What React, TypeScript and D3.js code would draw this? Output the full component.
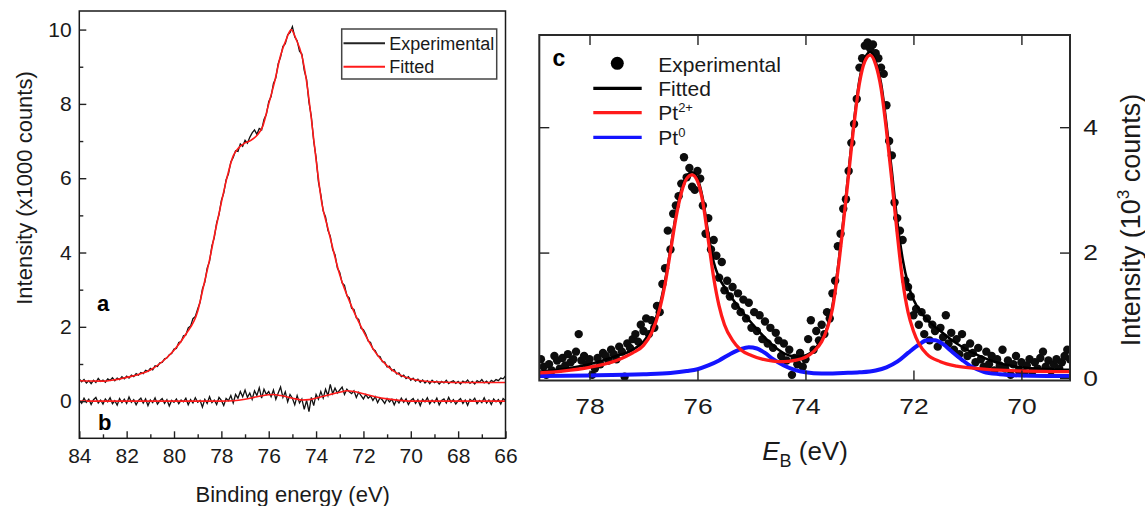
import React, { useRef, useEffect } from "react";
import * as d3 from "d3";

// ---------- panel a / b : 84 -> 66 eV, one value every 0.1 eV
const abStart = 84;
const abStep = 0.1;

// experimental spectrum (a), x1000 counts
const expA = [
  0.6, 0.52, 0.58, 0.49, 0.55, 0.47, 0.56, 0.5, 0.61, 0.53,
  0.57, 0.51, 0.6, 0.56, 0.63, 0.55, 0.62, 0.58, 0.66, 0.6,
  0.67, 0.62, 0.7, 0.66, 0.74, 0.7, 0.77, 0.74, 0.83, 0.8,
  0.88, 0.84, 0.95, 0.93, 1.03, 1.04, 1.14, 1.16, 1.25, 1.28,
  1.4,
  1.42, 1.58, 1.6, 1.76, 1.78, 1.97, 2.02, 2.22, 2.28, 2.48,
  2.66, 3.02, 3.2, 3.58, 3.76, 4.18, 4.4, 4.8, 5.02, 5.4,
  5.6, 5.96, 6.12, 6.44, 6.56, 6.74, 6.72, 6.92, 6.86, 7.02,
  6.94, 7.1, 7.22, 7.3, 7.18, 7.34, 7.3, 7.58, 7.72, 8.06,
  8.2, 8.55, 8.7, 9.08, 9.26, 9.55, 9.62, 9.86, 9.92, 10.08,
  9.8, 9.7, 9.42, 9.34, 8.9, 8.66, 8.04, 7.66, 7.0, 6.56,
  5.9, 5.56, 5.12, 4.96, 4.6, 4.44, 4.08, 3.94, 3.58, 3.46,
  3.18, 3.12, 2.84, 2.78, 2.5, 2.47, 2.24, 2.2, 1.96, 1.92,
  1.8, 1.62, 1.58, 1.4, 1.36, 1.22, 1.2, 1.06, 1.05, 0.92,
  0.94, 0.82, 0.85, 0.73, 0.76, 0.66, 0.7, 0.61, 0.66, 0.56,
  0.62, 0.54, 0.59, 0.51, 0.57, 0.49, 0.55, 0.47, 0.56, 0.5,
  0.54, 0.46, 0.53, 0.49, 0.56, 0.47, 0.52, 0.55, 0.48, 0.53,
  0.46, 0.54, 0.5, 0.57, 0.48, 0.53, 0.46, 0.55, 0.51, 0.58,
  0.49, 0.54, 0.47, 0.56, 0.52, 0.58, 0.55, 0.62, 0.6, 0.68,
];

// fitted envelope (a): [eV, value]
const fitA: [number, number][] = [
  [84, 0.55], [83, 0.54], [82, 0.64], [81.5, 0.72], [81, 0.84], [80.5, 1.06],
  [80, 1.37], [79.5, 1.8], [79, 2.42], [78.75, 3.1], [78.5, 3.8], [78.25, 4.6],
  [78, 5.35], [77.75, 6.05], [77.5, 6.6], [77.25, 6.83], [77, 6.95], [76.75, 7.02],
  [76.5, 7.15], [76.25, 7.4], [76, 8.0], [75.75, 8.6], [75.5, 9.3], [75.25, 9.75],
  [75.05, 10.0], [74.85, 9.75], [74.6, 9.3], [74.4, 8.6], [74.2, 7.6], [74, 6.5],
  [73.75, 5.3], [73.5, 4.65], [73.25, 4.0], [73, 3.4], [72.5, 2.55], [72, 1.88],
  [71.5, 1.32], [71, 0.95], [70.5, 0.72], [70, 0.6], [69.5, 0.54], [69, 0.52],
  [68, 0.5], [67, 0.5], [66, 0.5],
];

// experimental spectrum (b)
const expB = [
  0.02, -0.06, 0.08, -0.03, 0.05, -0.09, 0.04, 0.1, -0.05, 0.03,
  -0.08, 0.06, -0.02, 0.09, -0.07, 0.01, -0.11, 0.07, -0.04, 0.05,
  -0.06, 0.11, -0.03, 0.04, -0.1, 0.02, 0.08, -0.05, 0.06, -0.12,
  0.03, -0.04, 0.09, -0.08, 0.01, 0.07, -0.06, 0.04, -0.13, 0.02,
  -0.03,
  0.06, -0.07, 0.03, -0.02, 0.08, -0.1, 0.04, -0.05, 0.09, -0.03,
  0.02, -0.16, 0.05, -0.06, 0.12, -0.04, 0.03, -0.09, 0.1, 0.02,
  -0.12, 0.07, 0.01, 0.15, -0.05, 0.18, 0.08, 0.26, 0.12, 0.3,
  0.1, 0.22, 0.05, 0.28, 0.15, 0.36, 0.08, 0.32, 0.18, 0.26,
  0.12, 0.3, 0.05, 0.22, 0.38, 0.1, 0.25, -0.02, 0.18, 0.08,
  -0.1, 0.15, -0.05, 0.06, -0.22, 0.02, -0.28, 0.1, -0.12, 0.18,
  0.05, 0.26, 0.08, 0.32, 0.15, 0.45, 0.2, 0.35, 0.22, 0.3,
  0.38, 0.18, 0.32, 0.25, 0.2, 0.28, 0.1, 0.24, 0.15, 0.06,
  0.18, 0.08, 0.14, 0.02, 0.12, -0.04, 0.09, 0.03, -0.06, 0.07,
  -0.02, 0.05, -0.1, 0.04, -0.05, 0.08, -0.03, 0.06, -0.09, 0.02,
  0.07, -0.06, 0.04, -0.12, 0.05, -0.02, 0.09, -0.07, 0.03, -0.04,
  0.08, -0.1, 0.02, 0.06, -0.05, 0.1, -0.03, 0.04, -0.08, 0.01,
  0.07, -0.06, 0.03, -0.11, 0.05, 0.0, 0.08, -0.07, 0.02, -0.04,
  0.09, -0.05, 0.03, -0.09, 0.06, -0.02, 0.04, -0.08, 0.07, 0.02,
];

const fitB: [number, number][] = [
  [84, 0], [78, 0], [77.5, 0.01], [77, 0.05], [76.5, 0.12], [76, 0.17],
  [75.8, 0.18], [75.5, 0.15], [75, 0.08], [74.6, 0.03], [74.3, 0.04],
  [73.9, 0.1], [73.4, 0.18], [73, 0.24], [72.7, 0.28], [72.4, 0.26],
  [72, 0.2], [71.5, 0.12], [71, 0.06], [70.5, 0.02], [70, 0], [66, 0],
];

// ---------- panel c : 78.9 -> 69.1 eV, one point every 0.05 eV (10^3 counts)
const cStart = 78.9;
const cStep = 0.05;
const expC = [
  0.3, 0.18, 0.05, 0.22, 0.12, 0.35, 0.28, 0.15, 0.32, 0.2,
  0.38, 0.25, 0.3, 0.42, 0.7, 0.28, 0.35, 0.22, 0.3, 0.05,
  0.15, 0.32, 0.22, 0.4, 0.35, 0.28, 0.45, 0.38, 0.3, 0.5,
  0.42, 0.02, 0.55, 0.48, 0.62, 0.7, 0.58, 0.85, 0.75, 0.95,
  0.7, 0.92, 0.8, 1.15, 1.05, 1.5, 1.75, 2.35, 2.05, 2.62,
  2.75, 2.9, 3.1, 3.52, 3.2, 3.35, 3.05, 3.0, 3.3, 3.18,
  2.75, 2.3, 2.55, 2.05, 2.2, 1.95, 1.6, 1.85, 1.4, 1.55,
  1.3, 1.45, 1.15, 1.35, 1.05, 1.25, 0.95, 1.2, 0.8, 1.05,
  0.75, 1.0, 0.62, 0.9, 0.55, 0.8, 0.48, 0.72, 0.6, 0.35,
  0.55, 0.28, 0.45, 0.05, 0.32, 0.22, 0.4, 0.18, 0.3, 0.62,
  0.92, 0.45, 0.75, 0.6, 0.85, 0.7, 1.05, 0.95, 1.35, 1.55,
  2.1, 2.3, 2.7, 2.85, 3.3, 3.75, 4.05, 4.45, 4.95, 5.1,
  5.3, 5.35, 5.25, 5.32, 5.18, 5.1, 4.95, 4.85, 4.35, 3.78,
  3.55, 2.8, 2.55, 2.35, 2.2, 1.55, 1.45, 1.3, 1.0, 1.1,
  0.85, 1.05, 0.7, 0.95, 0.6, 0.85, 0.75, 0.5, 0.8, 0.65,
  1.0, 0.55, 0.72, 0.45, 0.62, 0.38, 0.7, 0.48, 0.35, 0.55,
  0.4, 0.25, 0.48, 0.3, 0.18, 0.42, 0.22, 0.35, 0.12, 0.3,
  0.2, 0.45, 0.15, 0.28, 0.05, 0.22, 0.35, 0.12, 0.25, 0.08,
  0.2, 0.3, 0.1, 0.25, 0.15, 0.32, 0.42, 0.18, 0.28, 0.12,
  0.22, 0.3, 0.15, 0.25, 0.35, 0.45, 0.3,
];

const fitC: [number, number][] = [
  [78.93, 0.1], [78.5, 0.14], [78, 0.22], [77.5, 0.35], [77.2, 0.45], [77, 0.58],
  [76.85, 0.78], [76.7, 1.15], [76.6, 1.55], [76.5, 2.05], [76.4, 2.6], [76.3, 3.0],
  [76.2, 3.22], [76.1, 3.28], [76, 3.18], [75.9, 2.85], [75.8, 2.3], [75.7, 1.85],
  [75.6, 1.6], [75.5, 1.45], [75.3, 1.2], [75.1, 0.98], [74.9, 0.78], [74.7, 0.6],
  [74.5, 0.45], [74.3, 0.36], [74.1, 0.34], [73.9, 0.4], [73.75, 0.55], [73.6, 0.8],
  [73.5, 1.15], [73.4, 1.75], [73.3, 2.5], [73.2, 3.3], [73.1, 4.1], [73, 4.75],
  [72.9, 5.1], [72.8, 5.2], [72.7, 5.05], [72.6, 4.7], [72.5, 4.05], [72.4, 3.3],
  [72.3, 2.5], [72.2, 1.9], [72.1, 1.5], [72, 1.25], [71.8, 0.98], [71.5, 0.75],
  [71.2, 0.55], [70.8, 0.36], [70.5, 0.26], [70, 0.17], [69.5, 0.14], [69.1, 0.13],
];

const pt2C: [number, number][] = [
  [78.93, 0.08], [78.5, 0.11], [78, 0.17], [77.5, 0.28], [77.2, 0.4], [77, 0.52],
  [76.85, 0.72], [76.7, 1.1], [76.6, 1.5], [76.5, 2.02], [76.4, 2.55], [76.3, 2.95],
  [76.2, 3.18], [76.1, 3.24], [76, 3.14], [75.9, 2.8], [75.8, 2.2], [75.7, 1.6],
  [75.6, 1.15], [75.5, 0.85], [75.35, 0.6], [75.2, 0.45], [75, 0.36], [74.8, 0.3],
  [74.6, 0.27], [74.4, 0.26], [74.2, 0.28], [74, 0.33], [73.85, 0.42], [73.7, 0.58],
  [73.6, 0.78], [73.5, 1.1], [73.4, 1.7], [73.3, 2.45], [73.2, 3.25], [73.1, 4.05],
  [73, 4.7], [72.9, 5.05], [72.8, 5.15], [72.7, 5.0], [72.6, 4.62], [72.5, 3.95],
  [72.4, 3.15], [72.3, 2.3], [72.2, 1.55], [72.1, 1.05], [72, 0.75], [71.9, 0.55],
  [71.75, 0.38], [71.5, 0.26], [71.2, 0.19], [70.8, 0.15], [70.3, 0.12], [69.1, 0.1],
];

const pt0C: [number, number][] = [
  [78.93, 0.03], [78, 0.04], [77, 0.06], [76.5, 0.08], [76.2, 0.11], [76, 0.14],
  [75.8, 0.2], [75.6, 0.28], [75.4, 0.38], [75.2, 0.46], [75.05, 0.49], [74.9, 0.47],
  [74.75, 0.4], [74.6, 0.3], [74.4, 0.2], [74.2, 0.13], [74, 0.09], [73.7, 0.07],
  [73.3, 0.08], [73, 0.09], [72.7, 0.12], [72.5, 0.17], [72.3, 0.26], [72.1, 0.4],
  [71.9, 0.53], [71.75, 0.6], [71.6, 0.6], [71.45, 0.54], [71.3, 0.43], [71.1, 0.29],
  [70.9, 0.17], [70.7, 0.1], [70.4, 0.06], [70, 0.04], [69.1, 0.03],
];

const xTicksA = [84, 82, 80, 78, 76, 74, 72, 70, 68, 66];
const xMinorA = [83, 81, 79, 77, 75, 73, 71, 69, 67];
const yTicksA = [0, 2, 4, 6, 8, 10];
const yMinorA = [1, 3, 5, 7, 9];
const xTicksC = [78, 76, 74, 72, 70];
const yTicksC = [0, 2, 4];

const RED = "#ff1a1a";
const BLUE = "#1414ff";
const FONT = "'Liberation Sans', Arial, Helvetica, sans-serif";

const toPoints = (vals: number[], start: number, step: number): [number, number][] =>
  vals.map((v, i) => [start - i * step, v]);

const App = () => {
  const svgRef = useRef<SVGSVGElement>(null);

  useEffect(() => {
    const svg = d3.select(svgRef.current);
    svg.selectAll("*").remove();
    svg.attr("font-family", FONT);

    const styleAxis = (g: any, fs: number, stretch = 1) => {
      g.select(".domain").remove();
      g.selectAll(".tick line").attr("stroke", "#222").attr("stroke-width", 1.4);
      g.selectAll(".tick text")
        .attr("font-size", fs)
        .attr("font-family", FONT)
        .attr("fill", "#1a1a1a");
      if (stretch !== 1) g.selectAll(".tick text").attr("transform", `scale(${stretch},1)`);
    };

    // ======================= panel a / b
    const xA = d3.scaleLinear().domain([84, 66]).range([79.3, 505.5]);
    const yA = d3.scaleLinear().domain([-1, 10.5]).range([438.3, 11]);
    const lineA = d3.line<[number, number]>().x((d) => xA(d[0])).y((d) => yA(d[1]));
    const smoothA = d3
      .line<[number, number]>()
      .x((d) => xA(d[0]))
      .y((d) => yA(d[1]))
      .curve(d3.curveMonotoneX);

    const gA = svg.append("g");

    gA.append("path")
      .attr("d", lineA(toPoints(expB, abStart, abStep)))
      .attr("fill", "none")
      .attr("stroke", "#111")
      .attr("stroke-width", 1.3);
    gA.append("path")
      .attr("d", smoothA(fitB))
      .attr("fill", "none")
      .attr("stroke", RED)
      .attr("stroke-width", 1.6);

    gA.append("path")
      .attr("d", lineA(toPoints(expA, abStart, abStep)))
      .attr("fill", "none")
      .attr("stroke", "#111")
      .attr("stroke-width", 1.3);
    gA.append("path")
      .attr("d", smoothA(fitA))
      .attr("fill", "none")
      .attr("stroke", RED)
      .attr("stroke-width", 1.6);

    gA.append("g")
      .attr("transform", "translate(0,438.3)")
      .call(d3.axisBottom(xA).tickValues(xTicksA).tickSize(-7).tickPadding(10).tickFormat(d3.format("d")))
      .call((g) => styleAxis(g, 21));
    gA.append("g")
      .attr("transform", "translate(0,438.3)")
      .call(d3.axisBottom(xA).tickValues(xMinorA).tickSize(-4).tickFormat(() => ""))
      .call((g) => styleAxis(g, 21));
    gA.append("g")
      .attr("transform", "translate(79.3,0)")
      .call(d3.axisLeft(yA).tickValues(yTicksA).tickSize(-7).tickPadding(7.6).tickFormat(d3.format("d")))
      .call((g) => styleAxis(g, 21));
    gA.append("g")
      .attr("transform", "translate(79.3,0)")
      .call(d3.axisLeft(yA).tickValues(yMinorA).tickSize(-4).tickFormat(() => ""))
      .call((g) => styleAxis(g, 21));

    gA.append("rect")
      .attr("x", xA(84))
      .attr("y", yA(10.5))
      .attr("width", xA(66) - xA(84))
      .attr("height", yA(-1) - yA(10.5))
      .attr("fill", "none")
      .attr("stroke", "#1a1a1a")
      .attr("stroke-width", 1.5);

    // legend a
    const legA = gA.append("g");
    legA.append("rect")
      .attr("x", 341.7).attr("y", 29).attr("width", 155).attr("height", 50)
      .attr("fill", "white").attr("stroke", "#444").attr("stroke-width", 1.5);
    [["Experimental", "#222", 43.3], ["Fitted", RED, 66.7]].forEach(([t, c, y]) => {
      legA.append("line")
        .attr("x1", 343.5).attr("x2", 385).attr("y1", y as number).attr("y2", y as number)
        .attr("stroke", c as string).attr("stroke-width", 2);
      legA.append("text")
        .attr("x", 389.3).attr("y", (y as number) + 6.7)
        .attr("font-size", 18).attr("fill", "#1a1a1a")
        .text(t as string);
    });

    gA.append("text").attr("x", 97).attr("y", 311).attr("font-size", 22)
      .attr("font-weight", "bold").text("a");
    gA.append("text").attr("x", 98).attr("y", 430).attr("font-size", 22)
      .attr("font-weight", "bold").text("b");

    gA.append("text")
      .attr("transform", "translate(31.5,188) rotate(-90)")
      .attr("text-anchor", "middle").attr("font-size", 22).attr("fill", "#1a1a1a")
      .text("Intensity (x1000 counts)");
    gA.append("text")
      .attr("x", 292.7).attr("y", 501.5)
      .attr("text-anchor", "middle").attr("font-size", 22).attr("fill", "#1a1a1a")
      .text("Binding energy (eV)");

    // ======================= panel c
    const xC = d3.scaleLinear().domain([78.93, 69.1]).range([539.3, 1070]);
    const yC = d3.scaleLinear().domain([-0.04, 5.47]).range([380.5, 35]);
    const smoothC = d3
      .line<[number, number]>()
      .x((d) => xC(d[0]))
      .y((d) => yC(d[1]))
      .curve(d3.curveMonotoneX);

    const gC = svg.append("g");
    gC.append("clipPath").attr("id", "clipC")
      .append("rect")
      .attr("x", 539.3).attr("y", 35).attr("width", 1070 - 539.3).attr("height", 380.5 - 35);

    const plotC = gC.append("g").attr("clip-path", "url(#clipC)");
    plotC.selectAll("circle")
      .data(toPoints(expC, cStart, cStep))
      .join("circle")
      .attr("cx", (d) => xC(d[0]))
      .attr("cy", (d) => yC(d[1]))
      .attr("r", 4.2)
      .attr("fill", "#0d0d0d");

    plotC.append("path").attr("d", smoothC(fitC)).attr("fill", "none")
      .attr("stroke", "#000").attr("stroke-width", 2.6);
    plotC.append("path").attr("d", smoothC(pt0C)).attr("fill", "none")
      .attr("stroke", BLUE).attr("stroke-width", 4);
    plotC.append("path").attr("d", smoothC(pt2C)).attr("fill", "none")
      .attr("stroke", RED).attr("stroke-width", 3.3);

    gC.append("g")
      .attr("transform", "translate(0,380.5)")
      .call(d3.axisBottom(xC).tickValues(xTicksC).tickSize(-10).tickPadding(18).tickFormat(d3.format("d")))
      .call((g) => styleAxis(g, 22, 1.2));
    gC.append("g")
      .attr("transform", "translate(0,35)")
      .call(d3.axisTop(xC).tickValues(xTicksC).tickSize(-10).tickFormat(() => ""))
      .call((g) => styleAxis(g, 22));
    gC.append("g")
      .attr("transform", "translate(1070,0)")
      .call(d3.axisRight(yC).tickValues(yTicksC).tickSize(-10).tickPadding(11).tickFormat(d3.format("d")))
      .call((g) => styleAxis(g, 22, 1.2));
    gC.append("g")
      .attr("transform", "translate(539.3,0)")
      .call(d3.axisLeft(yC).tickValues(yTicksC.slice(1)).tickSize(-10).tickFormat(() => ""))
      .call((g) => styleAxis(g, 22));

    gC.append("rect")
      .attr("x", 539.3).attr("y", 35)
      .attr("width", 1070 - 539.3).attr("height", 380.5 - 35)
      .attr("fill", "none").attr("stroke", "#2a2a2a").attr("stroke-width", 2);

    // legend c
    gC.append("text").attr("x", 552.5).attr("y", 66).attr("font-size", 23)
      .attr("font-weight", "bold").text("c");
    gC.append("circle").attr("cx", 617.3).attr("cy", 63.3).attr("r", 6.5).attr("fill", "#000");
    gC.append("text").attr("x", 658.3).attr("y", 71.7).attr("font-size", 21)
      .attr("fill", "#1a1a1a").text("Experimental");

    const legC: [string, string, string, number][] = [
      ["Fitted", "", "#000", 88.3],
      ["Pt", "2+", RED, 112.7],
      ["Pt", "0", BLUE, 137.3],
    ];
    legC.forEach(([t, sup, c, y]) => {
      gC.append("line")
        .attr("x1", 593.3).attr("x2", 641.7).attr("y1", y).attr("y2", y)
        .attr("stroke", c).attr("stroke-width", 3.2);
      const txt = gC.append("text").attr("x", 658.3).attr("y", y + 7.4)
        .attr("font-size", 21).attr("fill", "#1a1a1a");
      txt.append("tspan").text(t);
      if (sup) txt.append("tspan").attr("font-size", 13).attr("dy", -8).text(sup);
    });

    // axis titles c
    const xt = gC.append("text")
      .attr("x", 805).attr("y", 460)
      .attr("text-anchor", "middle").attr("font-size", 26).attr("fill", "#1a1a1a");
    xt.append("tspan").attr("font-style", "italic").text("E");
    xt.append("tspan").attr("font-size", 18).attr("dy", 7).text("B");
    xt.append("tspan").attr("dy", -7).text(" (eV)");

    const yt = gC.append("text")
      .attr("transform", "translate(1139.5,220) rotate(-90)")
      .attr("text-anchor", "middle").attr("font-size", 27).attr("fill", "#1a1a1a");
    yt.append("tspan").text("Intensity (10");
    yt.append("tspan").attr("font-size", 17).attr("dy", -11).text("3");
    yt.append("tspan").attr("dy", 11).text(" counts)");
  }, []);

  return (
    <svg
      ref={svgRef}
      width={1145}
      height={506}
      style={{ position: "absolute", left: 0, top: 0, background: "white" }}
    ></svg>
  );
};

export default App;
